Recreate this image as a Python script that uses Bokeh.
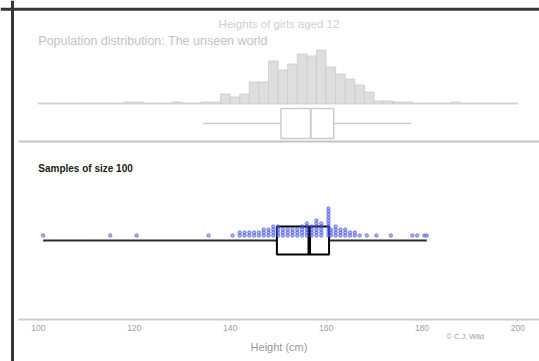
import numpy as np
from bokeh.plotting import figure
from bokeh.models import Range1d, Span, Label, FixedTicker
from bokeh.embed import file_html
from bokeh.resources import INLINE

# ---------------- data ----------------
# population histogram: left edge of each 2 cm bin (cm) and its count
pop_bin_left = [100, 102, 104, 106, 108, 110, 112, 114, 116, 118,
                120, 122, 124, 126, 128, 130, 132, 134, 136, 138,
                140, 142, 144, 146, 148, 150, 152, 154, 156, 158,
                160, 162, 164, 166, 168, 170, 172, 174, 176, 178,
                180, 182, 184, 186, 188, 190, 192, 194, 196, 198]
pop_counts = [1, 1, 1, 1, 1, 1, 1, 1, 1, 2,
              2, 1, 1, 1, 2, 1, 1, 2, 2, 10,
              7, 10, 22, 22, 43, 34, 40, 50, 48, 54,
              37, 30, 25, 19, 12, 3, 3, 2, 2, 1,
              1, 1, 1, 2, 1, 1, 1, 1, 1, 1]
bin_width = 2

# population box plot (whisker ends, quartiles, median), cm
pop_box = {"lo": 134.4, "q1": 150.6, "median": 156.8, "q3": 161.6, "hi": 177.8}

# one sample of 100 heights (cm)
sample_heights = [101, 115, 120.5, 135.5, 140.5,
                  142, 142, 143, 143, 144, 144, 145, 145, 146, 146,
                  147, 147, 147, 148, 148, 148, 149, 149, 149, 149,
                  150, 150, 150, 150, 151, 151, 151, 152, 152, 152,
                  153, 153, 153, 154, 154, 154, 155, 155, 155, 155,
                  156, 156, 156, 156, 156,
                  157, 157, 157, 157, 158, 158, 158, 158, 158, 158,
                  159, 159, 159, 159, 159,
                  160.5, 160.5, 160.5, 160.5, 160.5, 160.5, 160.5, 160.5, 160.5, 160.5,
                  161, 161, 161, 162, 162, 162, 162, 163, 163, 163,
                  164, 164, 164, 165, 165, 166, 166, 167,
                  168.5, 170.5, 173.5, 178, 179, 180.5, 181]

x_ticks = [100, 120, 140, 160, 180, 200]

# ---------------- layout constants (y in px from the top of the canvas) ----------------
W, H = 539, 361
PX_PER_CM = 4.796
x_start = 92.118
x_end = x_start + W / PX_PER_CM
AXIS_LEFT = 95.87            # where axis line and separator begin

TITLE_Y, SUB_Y = 23, 40
HIST_BASE = 103.5
POP_BOX_TOP, POP_BOX_BOT, POP_WHISK = 108, 138, 123
SEP_Y = 141
SAMPLES_Y = 168
DOT_BASE, DOT_STEP = 235, 3
S_BOX_TOP, S_BOX_BOT, S_WHISK = 226, 254, 240
AXIS_Y = 319
CREDIT_Y = 336
FRAME_EDGE_X = 94.62          # left dark border
FRAME_EDGE_Y = 8.7            # top dark border

FONT = "Liberation Sans"

p = figure(width=W, height=H, output_backend="svg", toolbar_location=None, tools="",
           title=None, x_range=Range1d(x_start, x_end), y_range=Range1d(H, 0),
           min_border=0, min_border_left=0, min_border_right=0, min_border_top=0,
           min_border_bottom=0, y_axis_location=None,
           background_fill_color="white", border_fill_color="white")
p.extra_y_ranges = {"hist": Range1d(-(H - HIST_BASE), HIST_BASE)}
p.xgrid.visible = False
p.ygrid.visible = False
p.outline_line_color = None

# dark window border (left and top)
p.add_layout(Span(location=FRAME_EDGE_X, dimension="height", line_color="#363636", line_width=3))
p.add_layout(Span(location=FRAME_EDGE_Y, dimension="width", line_color="#363636", line_width=3))

# population histogram
left = np.array(pop_bin_left, dtype=float)
p.quad(left=left, right=left + bin_width, bottom=0, top=pop_counts, y_range_name="hist",
       fill_color="#dedede", line_color="#cacaca", line_width=0.8)

# population box plot (faded)
pc = "#cccccc"
p.segment(x0=[pop_box["lo"], pop_box["q3"]], x1=[pop_box["q1"], pop_box["hi"]],
          y0=POP_WHISK, y1=POP_WHISK, line_color=pc, line_width=1.5)
p.quad(left=pop_box["q1"], right=pop_box["q3"], top=POP_BOX_TOP, bottom=POP_BOX_BOT,
       fill_color="white", line_color=pc, line_width=1.5)
p.segment(x0=pop_box["median"], x1=pop_box["median"], y0=POP_BOX_TOP, y1=POP_BOX_BOT,
          line_color=pc, line_width=2)

# separator between the two panels
p.segment(x0=AXIS_LEFT, x1=x_end, y0=SEP_Y, y1=SEP_Y, line_color="#c4c4c4", line_width=2)

# sample box plot
vals = np.array(sample_heights, dtype=float)
q1, med, q3 = np.percentile(vals, [25, 50, 75])
lo, hi = vals.min(), vals.max()
p.segment(x0=[lo, q3], x1=[q1, hi], y0=S_WHISK, y1=S_WHISK, line_color="#2a2a2a", line_width=2)
p.quad(left=q1, right=q3, top=S_BOX_TOP, bottom=S_BOX_BOT, fill_color=None,
       line_color="black", line_width=2)
p.segment(x0=med, x1=med, y0=S_BOX_TOP, y1=S_BOX_BOT, line_color="black", line_width=3.5)

# dot plot of the sample (stacked)
seen = {}
stack = []
for v in sample_heights:
    k = seen.get(v, 0)
    stack.append(k)
    seen[v] = k + 1
dot_y = [DOT_BASE - k * DOT_STEP for k in stack]
p.scatter(x=sample_heights, y=dot_y, size=3.5, marker="circle",
          fill_color="#5a66f0", fill_alpha=0.5, line_color="#3a48e6", line_alpha=0.7,
          line_width=0.8)

# texts
p.add_layout(Label(x=(AXIS_LEFT + x_end) / 2, y=TITLE_Y, text="Heights of girls aged 12",
                   text_align="center", text_baseline="middle", text_font=FONT,
                   text_font_size="11.5px", text_color="#cfcfcf"))
p.add_layout(Label(x=100, y=SUB_Y, text="Population distribution: The unseen world",
                   text_align="left", text_baseline="middle", text_font=FONT,
                   text_font_size="12.5px", text_color="#c2c2c2"))
p.add_layout(Label(x=100, y=SAMPLES_Y, text="Samples of size 100",
                   text_align="left", text_baseline="middle", text_font=FONT,
                   text_font_size="10px", text_font_style="bold", text_color="#222222"))
p.add_layout(Label(x=189, y=CREDIT_Y, text="\u00a9 C.J. Wild",
                   text_align="center", text_baseline="middle", text_font=FONT,
                   text_font_size="7.5px", text_color="#999999"))

# x axis, drawn inside the canvas at a fixed height
ax = p.xaxis[0]
ax.fixed_location = AXIS_Y
ax.bounds = (AXIS_LEFT, x_end)
ax.ticker = FixedTicker(ticks=x_ticks)
ax.axis_label = "Height (cm)"
ax.axis_label_text_font = FONT
ax.axis_label_text_font_size = "11px"
ax.axis_label_text_font_style = "normal"
ax.axis_label_text_color = "#999999"
ax.axis_label_standoff = 7
ax.major_label_text_font = FONT
ax.major_label_text_font_size = "8.5px"
ax.major_label_text_color = "#a0a0a0"
ax.major_label_standoff = 3
ax.axis_line_color = "#cccccc"
ax.axis_line_width = 2
ax.major_tick_line_color = "#cccccc"
ax.major_tick_out = 2
ax.major_tick_in = 0
ax.minor_tick_line_color = None

open("out.html", "w").write(file_html(p, INLINE))
